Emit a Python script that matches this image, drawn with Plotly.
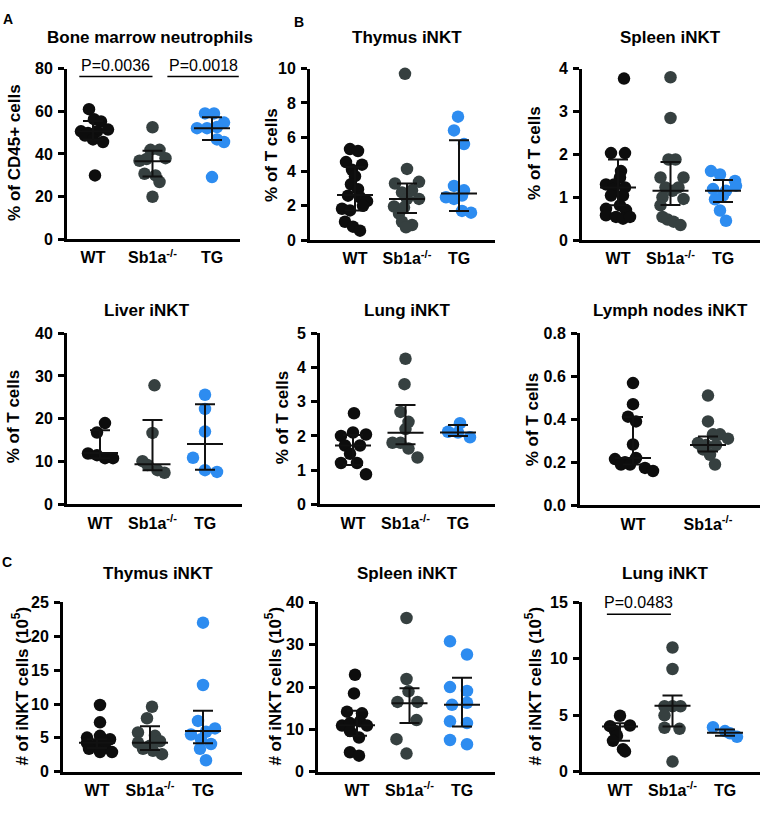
import plotly.graph_objects as go

W, H = 768, 817
FONT = "Liberation Sans, Arial, sans-serif"
C_WT, C_KO, C_TG = "#0d0d0d", "#364040", "#2d8cf0"
GROUP_COLORS = [C_WT, C_KO, C_TG]
GROUPS3 = ["WT", "Sb1a<sup>-/-</sup>", "TG"]
GROUPS2 = ["WT", "Sb1a<sup>-/-</sup>"]

# ---------------- data ----------------
# A: Bone marrow neutrophils (% of CD45+ cells)
bm_wt = [61, 56.3, 55.2, 50.6, 49.8, 50.6, 51.4, 48.6, 46.8, 45.6, 29.9]
bm_ko = [52.5, 41.9, 41.9, 36.8, 37.6, 38, 30.7, 29.9, 26.8, 19.9]
bm_tg = [59, 59, 54.7, 52.1, 52.1, 52.6, 46.8, 45.6, 29.1]
bm_med = [50.6, 36.5, 52.1]
bm_q1 = [46.8, 29.4, 46.5]
bm_q3 = [55.4, 41.5, 57.2]

# B: Thymus iNKT (% of T cells)
thy_wt = [5.31, 5.2, 4.55, 4.4, 4.1, 3.73, 3.26, 2.97, 2.59, 2.5, 2.27, 1.83, 1.73, 2.0, 1.07, 0.78, 0.55]
thy_ko = [9.7, 4.15, 3.4, 3.3, 2.9, 2.78, 2.4, 2.4, 1.96, 1.9, 1.54, 1.07, 0.88, 0.75]
thy_tg = [7.2, 6.4, 5.6, 3.16, 2.9, 2.5, 2.4, 2.6, 1.7, 1.6]
thy_med = [2.63, 2.4, 2.72]
thy_q1 = [1.73, 1.58, 1.7]
thy_q3 = [4.27, 3.3, 5.83]

# B: Spleen iNKT (% of T cells)
spl_wt = [3.77, 2.03, 2.03, 1.61, 1.46, 1.3, 1.3, 1.19, 1.23, 1.04, 1.04, 0.81, 0.73, 0.7, 0.58, 0.54, 0.5, 0.54]
spl_ko = [3.8, 2.85, 1.88, 1.88, 1.46, 1.46, 1.23, 1.23, 1.15, 1.0, 0.96, 0.81, 0.54, 0.48, 0.43, 0.35]
spl_tg = [1.61, 1.53, 1.38, 1.27, 1.19, 1.15, 1.04, 0.95, 0.69, 0.45]
spl_med = [1.23, 1.15, 1.15]
spl_q1 = [0.81, 0.82, 0.89]
spl_q3 = [1.88, 1.82, 1.4]

# B: Liver iNKT (% of T cells)
liv_wt = [19, 16.8, 11.9, 11.5, 10.8, 10.8]
liv_ko = [27.8, 16.7, 10.1, 9.2, 8.0, 7.4]
liv_tg = [25.6, 22.3, 17.0, 10.9, 8.0, 7.6]
liv_med = [12.0, 9.4, 14.1]
liv_q1 = [10.8, 8.0, 8.1]
liv_q3 = [17.3, 19.7, 23.4]

# B: Lung iNKT (% of T cells)
lun_wt = [2.66, 2.0, 2.1, 2.04, 1.72, 1.72, 1.48, 1.21, 1.21, 0.88]
lun_ko = [4.25, 3.51, 2.7, 2.41, 2.2, 1.8, 1.8, 1.63, 1.37]
lun_tg = [2.12, 2.37, 2.1, 1.96]
lun_med = [1.72, 2.09, 2.1]
lun_q1 = [1.15, 1.76, 2.0]
lun_q3 = [2.03, 2.9, 2.32]

# B: Lymph nodes iNKT (% of T cells)
lym_wt = [0.568, 0.47, 0.412, 0.39, 0.283, 0.215, 0.22, 0.2, 0.19, 0.19, 0.174, 0.16]
lym_ko = [0.51, 0.39, 0.33, 0.33, 0.31, 0.29, 0.28, 0.28, 0.26, 0.235, 0.19]
lym_med = [0.22, 0.28]
lym_q1 = [0.19, 0.25]
lym_q3 = [0.41, 0.32]

# C: Thymus iNKT (# of iNKT cells, 10^5)
cthy_wt = [9.86, 7.3, 5.05, 5.3, 4.8, 4.23, 3.85, 4.4, 3.6, 3.4, 2.9, 2.9]
cthy_ko = [9.6, 7.9, 5.8, 5.3, 4.3, 3.85, 4.5, 3.4, 3.1, 2.6]
cthy_tg = [22, 12.8, 7.5, 6.4, 5.9, 5.5, 4.8, 4.1, 3.4, 1.7]
cthy_med = [4.3, 4.3, 6.0]
cthy_q1 = [3.5, 3.2, 4.2]
cthy_q3 = [4.8, 6.7, 9.0]

# C: Spleen iNKT (# of iNKT cells, 10^5)
cspl_wt = [22.9, 18.5, 14.2, 13.8, 10.9, 11.5, 11.9, 10.9, 9.6, 8.1, 4.6, 3.8]
cspl_ko = [36.3, 21.9, 19.0, 16.5, 16.5, 12.2, 7.7, 4.3]
cspl_tg = [30.8, 27.7, 20.0, 19.1, 15.8, 16.3, 11.9, 11.5, 7.5, 6.5]
cspl_med = [11.0, 16.2, 15.8]
cspl_q1 = [8.5, 11.5, 10.7]
cspl_q3 = [14.4, 19.7, 22.2]

# C: Lung iNKT (# of iNKT cells, 10^5)
clun_wt = [4.96, 4.04, 4.1, 3.6, 3.2, 2.74, 2.0, 1.8]
clun_ko = [11.0, 9.1, 5.8, 5.8, 5.8, 5.0, 3.9, 3.8, 0.9]
clun_tg = [3.95, 3.6, 3.4, 3.1]
clun_med = [4.0, 5.85, 3.45]
clun_q1 = [2.75, 4.0, 3.2]
clun_q3 = [4.3, 6.75, 3.75]

# horizontal swarm offsets of the dots (pixels from group centre)
jit = {
    "bm": [[-4, 1, 8, -12, -5, 4, 15, -8, 0, 10, 2],
           [0, -2, 7, -13, -6, 13, -8, 3, 7, 0],
           [-7, 2, 12, -15, -5, 5, 5, 12, 0]],
    "thy": [[-5, 3, -9, 7, -3, 0, -4, 3, -7, 5, 12, -13, -5, 8, -10, -2, 5],
            [-2, 0, 12, -12, 5, -5, 0, 12, -13, -3, -8, -5, 5, -1],
            [-1, -5, 5, -5, 5, -13, -5, 3, 3, 12]],
    "spl": [[6, -7, 7, 3, 2, -12, -4, -5, 7, -7, 5, 2, -12, 8, -12, -2, 5, 12],
            [0, 0, -2, 5, -10, 13, -5, 8, 2, -8, 13, -10, -8, -3, 3, 10],
            [-12, -3, 12, 13, -10, 3, 0, -8, -3, 3]],
    "liv": [[5, -3, -12, -3, 5, 13],
            [2, 0, -10, -5, 5, 12],
            [0, 0, 0, -12, 0, 12]],
    "lun": [[1, -12, 0, 13, -8, 7, -3, -12, 4, 13],
            [0, -1, -5, 3, 0, -13, -5, 3, 12],
            [-10, 2, 0, 12]],
    "lym": [[0, 0, -5, 3, 0, -18, 3, -8, -12, -3, 12, 20],
            [0, 0, 5, 12, 20, -10, -2, 8, -5, 2, 7]],
    "cthy": [[3, 3, -10, 3, 13, -10, -2, 7, 8, -8, 3, 15],
             [2, -3, -12, 5, -12, 0, 10, -7, 3, 12],
             [0, 0, -5, 12, 3, -12, -2, 8, -3, 3]],
    "cspl": [[-2, -3, -10, 5, -15, -7, 3, 10, -7, 2, -7, 2],
             [-3, -3, -1, -12, 8, 7, -13, -3],
             [-12, 5, -12, 5, -10, 5, -12, 5, -12, 5]],
    "clun": [[0, -10, 10, -5, -3, -7, 3, 5],
             [0, 0, -8, 0, 8, -8, -8, 7, 0],
             [-12, 0, 5, 12]],
}

# ---------------- panel layout (pixels) ----------------
panels = [
    dict(key="bm", title="Bone marrow neutrophils", groups=GROUPS3,
         vals=[bm_wt, bm_ko, bm_tg], med=bm_med, q1=bm_q1, q3=bm_q3,
         ymax=80, dtick=20, fmt="", ylab="% of CD45+ cells",
         ax=(67, 240), ay=(62, 236), cat0=93, sp=59.5, tpos=(150, 30), lpos=(15, 148)),
    dict(key="thy", title="Thymus iNKT", groups=GROUPS3,
         vals=[thy_wt, thy_ko, thy_tg], med=thy_med, q1=thy_q1, q3=thy_q3,
         ymax=10, dtick=2, fmt="", ylab="% of T cells",
         ax=(310, 495), ay=(62, 237), cat0=355, sp=52, tpos=(407, 30), lpos=(272, 150)),
    dict(key="spl", title="Spleen iNKT", groups=GROUPS3,
         vals=[spl_wt, spl_ko, spl_tg], med=spl_med, q1=spl_q1, q3=spl_q3,
         ymax=4, dtick=1, fmt="", ylab="% of T cells",
         ax=(582, 760), ay=(62, 237), cat0=618, sp=52.5, tpos=(670, 30), lpos=(535, 148)),
    dict(key="liv", title="Liver iNKT", groups=GROUPS3,
         vals=[liv_wt, liv_ko, liv_tg], med=liv_med, q1=liv_q1, q3=liv_q3,
         ymax=40, dtick=10, fmt="", ylab="% of T cells",
         ax=(67, 242), ay=(332, 507), cat0=100, sp=52.5, tpos=(147, 309), lpos=(13, 417)),
    dict(key="lun", title="Lung iNKT", groups=GROUPS3,
         vals=[lun_wt, lun_ko, lun_tg], med=lun_med, q1=lun_q1, q3=lun_q3,
         ymax=5, dtick=1, fmt="", ylab="% of T cells",
         ax=(320, 495), ay=(332, 507), cat0=353, sp=52.5, tpos=(407, 309), lpos=(282, 418)),
    dict(key="lym", title="Lymph nodes iNKT", groups=GROUPS2,
         vals=[lym_wt, lym_ko], med=lym_med, q1=lym_q1, q3=lym_q3,
         ymax=0.8, dtick=0.2, fmt=".1f", ylab="% of T cells",
         ax=(580, 760), ay=(332, 508), cat0=633, sp=75, tpos=(670, 309), lpos=(532, 420)),
    dict(key="cthy", title="Thymus iNKT", groups=GROUPS3,
         vals=[cthy_wt, cthy_ko, cthy_tg], med=cthy_med, q1=cthy_q1, q3=cthy_q3,
         ymax=25, dtick=5, fmt="", ylab="# of iNKT cells (10<sup>5</sup>)",
         ax=(63, 242), ay=(607, 780), cat0=97, sp=53, tpos=(158, 578), lpos=(20, 693)),
    dict(key="cspl", title="Spleen iNKT", groups=GROUPS3,
         vals=[cspl_wt, cspl_ko, cspl_tg], med=cspl_med, q1=cspl_q1, q3=cspl_q3,
         ymax=40, dtick=10, fmt="", ylab="# of iNKT cells (10<sup>5</sup>)",
         ax=(318, 495), ay=(607, 780), cat0=357, sp=52.5, tpos=(407, 578), lpos=(273, 693)),
    dict(key="clun", title="Lung iNKT", groups=GROUPS3,
         vals=[clun_wt, clun_ko, clun_tg], med=clun_med, q1=clun_q1, q3=clun_q3,
         ymax=15, dtick=5, fmt="", ylab="# of iNKT cells (10<sup>5</sup>)",
         ax=(582, 760), ay=(607, 780), cat0=620, sp=52.5, tpos=(665, 578), lpos=(533, 693)),
]

fig = go.Figure()
annotations = []
shapes = []
layout = {}

for i, p in enumerate(panels):
    n = i + 1
    xa = "xaxis" if n == 1 else f"xaxis{n}"
    ya = "yaxis" if n == 1 else f"yaxis{n}"
    xr = "x" if n == 1 else f"x{n}"
    yr = "y" if n == 1 else f"y{n}"
    x0, x1 = p["ax"]
    yt, yb = p["ay"]
    sp = p["sp"]
    ng = len(p["groups"])
    rng = [-(p["cat0"] - x0) / sp, (x1 - p["cat0"]) / sp]

    layout[xa] = dict(domain=[x0 / W, x1 / W], range=rng, anchor=yr,
                      showgrid=False, zeroline=False, showline=True,
                      linecolor="black", linewidth=3, ticks="",
                      tickvals=list(range(ng)), ticktext=p["groups"],
                      tickfont=dict(family=FONT, size=16, color="black", weight="bold"),
                      ticklabelstandoff=2, fixedrange=True)
    layout[ya] = dict(domain=[1 - yb / H, 1 - yt / H], range=[0, p["ymax"]], anchor=xr,
                      showgrid=False, zeroline=False, showline=True,
                      linecolor="black", linewidth=3, ticks="outside",
                      ticklen=6, tickwidth=3, tickcolor="black",
                      tick0=0, dtick=p["dtick"], tickformat=p["fmt"],
                      tickfont=dict(family=FONT, size=16, color="black", weight="bold"),
                      ticklabelstandoff=2, fixedrange=True)

    hm = 18 / sp   # median half width
    hc = 10 / sp   # cap half width
    for g in range(ng):
        vals = p["vals"][g]
        offs = jit[p["key"]][g]
        xs = [g + o / sp for o in offs]
        fig.add_trace(go.Scatter(x=xs, y=vals, xaxis=xr, yaxis=yr, mode="markers",
                                 marker=dict(size=12.5, color=GROUP_COLORS[g], line=dict(width=0)),
                                 cliponaxis=False, showlegend=False, hoverinfo="skip"))
    for g in range(ng):
        m, a, b = p["med"][g], p["q1"][g], p["q3"][g]
        ex = [g - hm, g + hm, None, g - hc, g + hc, None, g - hc, g + hc, None, g, g]
        ey = [m, m, None, b, b, None, a, a, None, a, b]
        fig.add_trace(go.Scatter(x=ex, y=ey, xaxis=xr, yaxis=yr, mode="lines",
                                 line=dict(color="#111111", width=2),
                                 cliponaxis=False, showlegend=False, hoverinfo="skip"))

    annotations.append(dict(text=f"<b>{p['title']}</b>", x=p["tpos"][0] / W, y=1 - p["tpos"][1] / H,
                            xref="paper", yref="paper", showarrow=False,
                            xanchor="center", yanchor="middle",
                            font=dict(family=FONT, size=17, color="black")))
    annotations.append(dict(text=f"<b>{p['ylab']}</b>", x=p["lpos"][0] / W, y=1 - p["lpos"][1] / H,
                            xref="paper", yref="paper", showarrow=False, textangle=-90,
                            xanchor="center", yanchor="middle",
                            font=dict(family=FONT, size=17, color="black")))

# panel letters
for txt, px, py in [("A", 8, 11), ("B", 299, 14), ("C", 7, 566)]:
    annotations.append(dict(text=f"<b>{txt}</b>", x=px / W, y=1 - py / H, xref="paper", yref="paper",
                            showarrow=False, xanchor="center", yanchor="middle",
                            font=dict(family=FONT, size=14, color="black")))

# significance brackets
sig = [
    ("x", "y", -0.23, 1.0, 76.3, "P=0.0036"),
    ("x", "y", 1.25, 2.45, 76.3, "P=0.0018"),
    ("x9", "y9", -0.25, 0.97, 13.95, "P=0.0483"),
]
for xr, yr, a, b, yv, txt in sig:
    shapes.append(dict(type="line", xref=xr, yref=yr, x0=a, x1=b, y0=yv, y1=yv,
                       line=dict(color="black", width=1.5)))
    annotations.append(dict(text=txt, x=(a + b) / 2, y=yv, xref=xr, yref=yr, showarrow=False,
                            xanchor="center", yanchor="bottom", yshift=1,
                            font=dict(family=FONT, size=16, color="black")))

fig.update_layout(width=W, height=H, margin=dict(l=0, r=0, t=0, b=0),
                  paper_bgcolor="white", plot_bgcolor="white",
                  annotations=annotations, shapes=shapes, showlegend=False, **layout)

fig.write_html("out.html",
               config={"displayModeBar": False, "staticPlot": True},
               post_script="document.body.style.margin='0';document.body.style.padding='0';"
                           "document.body.style.overflow='hidden';")
